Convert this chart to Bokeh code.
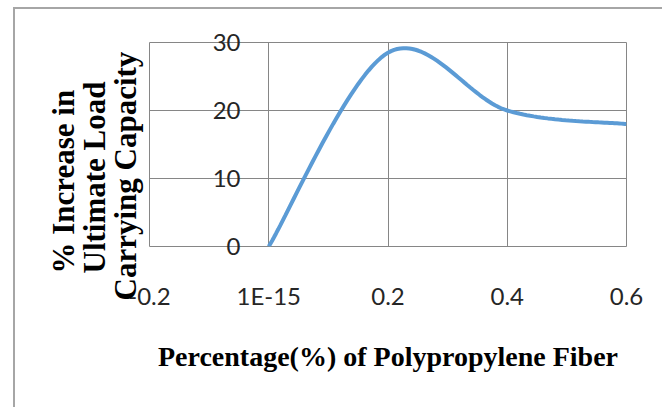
import numpy as np
from bokeh.plotting import figure
from bokeh.models import FixedTicker, InlineStyleSheet, Title
from bokeh.embed import file_html
from bokeh.resources import INLINE

# data
fiber_pct = [0.0, 0.2, 0.4, 0.6]
load_increase = [0.0, 28.5, 20.0, 18.0]
x_ticks = [-0.2, 0.0, 0.2, 0.4, 0.6]
x_tick_labels = ["-0.2", "1E-15", "0.2", "0.4", "0.6"]
y_ticks = [0, 10, 20, 30]
y_tick_labels = ["0", "10", "20", "30"]
y_title_lines = ["% Increase in", "Ultimate Load", "Carrying Capacity"]


def smooth(xs, ys, n=40):
    # Excel-like smoothed line (Catmull-Rom style Bezier through data points)
    P = np.column_stack([xs, ys]).astype(float)
    out = []
    for i in range(len(P) - 1):
        p0 = P[i - 1] if i > 0 else P[i]
        p1 = P[i]
        p2 = P[i + 1]
        p3 = P[i + 2] if i + 2 < len(P) else P[i + 1]
        c1 = p1 + (p2 - p0) / 6.0
        c2 = p2 - (p3 - p1) / 6.0
        t = np.linspace(0, 1, n)[:, None]
        seg = ((1 - t) ** 3) * p1 + 3 * ((1 - t) ** 2) * t * c1 + 3 * (1 - t) * t ** 2 * c2 + t ** 3 * p2
        out.append(seg if i == 0 else seg[1:])
    s = np.vstack(out)
    return s[:, 0], s[:, 1]


sx, sy = smooth(fiber_pct, load_increase)

p = figure(width=662, height=407, output_backend="svg", toolbar_location=None,
           x_range=(-0.2, 0.6), y_range=(0, 30),
           min_border_left=149, min_border_right=36, min_border_top=42, min_border_bottom=161)
p.background_fill_color = "white"
p.border_fill_color = "white"
p.outline_line_color = "#868686"
p.outline_line_width = 1

grid_color = "#868686"
p.xgrid.ticker = FixedTicker(ticks=x_ticks)
p.ygrid.ticker = FixedTicker(ticks=y_ticks)
p.xgrid.grid_line_color = grid_color
p.ygrid.grid_line_color = grid_color

# x axis
xa = p.xaxis[0]
xa.ticker = FixedTicker(ticks=x_ticks)
xa.major_label_overrides = {t: l for t, l in zip(x_ticks, x_tick_labels)}
xa.major_tick_line_color = None
xa.minor_tick_line_color = None
xa.axis_line_color = None
xa.major_label_text_font = "Lato"
xa.major_label_text_font_size = "24px"
xa.major_label_text_color = "#262626"
xa.major_label_standoff = 28
xa.axis_label = "Percentage(%) of Polypropylene Fiber"
xa.axis_label_text_font = "Liberation Serif"
xa.axis_label_text_font_style = "bold"
xa.axis_label_text_font_size = "28px"
xa.axis_label_text_color = "black"
xa.axis_label_standoff = 28

# y axis labels pulled in next to the x = 0 line
ya = p.yaxis[0]
ya.ticker = FixedTicker(ticks=y_ticks)
ya.major_label_overrides = {t: l for t, l in zip(y_ticks, y_tick_labels)}
ya.major_tick_line_color = None
ya.minor_tick_line_color = None
ya.major_tick_in = 0
ya.major_tick_out = 0
ya.axis_line_color = None
ya.major_label_text_font = "Lato"
ya.major_label_text_font_size = "24px"
ya.major_label_text_color = "#262626"
ya.major_label_standoff = -91

# y title on the left side, one line per title (innermost first)
title_standoffs = {"% Increase in": 14, "Ultimate Load": -26, "Carrying Capacity": 14}
title_offsets = {"% Increase in": -27, "Ultimate Load": -27, "Carrying Capacity": -54}
for line in reversed(y_title_lines):
    p.add_layout(Title(text=line, align="left", vertical_align="bottom",
                       offset=title_offsets[line], standoff=title_standoffs[line],
                       text_font="Liberation Serif", text_font_style="bold",
                       text_font_size="31px", text_color="black"), "left")

p.line(sx, sy, line_color="#5b9bd5", line_width=4)

# outer chart border (drawn by the page's stylesheet)
p.stylesheets = [InlineStyleSheet(css=(
    ":host { position: relative; }"
    ":host::after { content: ''; position: absolute; left: 13px; top: 7px;"
    " width: 700px; height: 450px; border: 2px solid #a6a6a6;"
    " pointer-events: none; box-sizing: border-box; }"))]

open("out.html", "w").write(file_html(p, INLINE))
